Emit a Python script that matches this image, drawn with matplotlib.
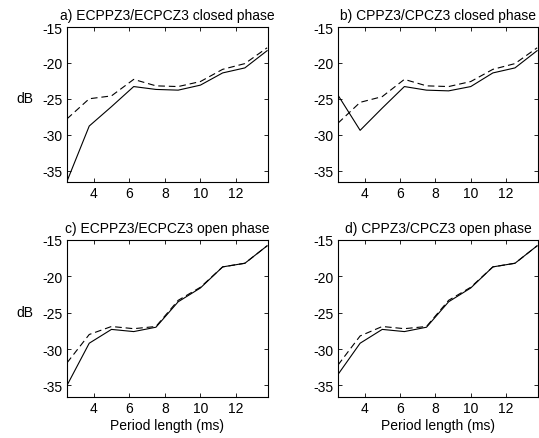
import matplotlib

matplotlib.use("Agg")
import matplotlib.pyplot as plt

plt.rcParams["font.family"] = ["Liberation Sans", "DejaVu Sans"]
plt.rcParams["font.size"] = 10
plt.rcParams["axes.unicode_minus"] = False

# period length (ms)
period = [2.5, 3.75, 5.0, 6.25, 7.5, 8.75, 10.0, 11.25, 12.5, 13.75]

titles = [
    "a) ECPPZ3/ECPCZ3 closed phase",
    "b) CPPZ3/CPCZ3 closed phase",
    "c) ECPPZ3/ECPCZ3 open phase",
    "d) CPPZ3/CPCZ3 open phase",
]

# solid curves (dB)
solid_a = [-36.5, -28.8, -26.1, -23.3, -23.7, -23.8, -23.1, -21.4, -20.7, -18.3]
solid_b = [-24.5, -29.4, -26.3, -23.3, -23.8, -23.9, -23.3, -21.4, -20.7, -18.3]
solid_c = [-35.0, -29.2, -27.3, -27.6, -27.0, -23.5, -21.6, -18.7, -18.2, -15.8]
solid_d = [-33.5, -29.2, -27.3, -27.6, -27.0, -23.5, -21.6, -18.7, -18.2, -15.8]

# dashed curves (dB)
dashed_a = [-27.8, -25.0, -24.6, -22.3, -23.2, -23.3, -22.6, -20.9, -20.1, -17.9]
dashed_b = [-28.4, -25.5, -24.7, -22.3, -23.2, -23.3, -22.6, -20.9, -20.1, -17.9]
dashed_c = [-31.9, -28.0, -26.9, -27.2, -26.9, -23.3, -21.5, -18.7, -18.2, -15.8]
dashed_d = [-32.2, -28.2, -26.9, -27.2, -26.9, -23.3, -21.5, -18.7, -18.2, -15.8]

solids = [solid_a, solid_b, solid_c, solid_d]
dasheds = [dashed_a, dashed_b, dashed_c, dashed_d]

W, H = 539, 439
fig = plt.figure(figsize=(W / 100, H / 100), dpi=100)
fig.patch.set_facecolor("white")

# axes boxes in pixels: left, top, right, bottom
boxes = [
    (67, 28, 268, 183),
    (338, 28, 538, 183),
    (67, 241, 268, 398),
    (338, 241, 538, 398),
]

for i, (l, t, r, b) in enumerate(boxes):
    ax = fig.add_axes([l / W, 1 - b / H, (r - l) / W, (b - t) / H])
    ax.plot(period, solids[i], color="black", lw=0.8)
    ax.plot(period, dasheds[i], color="black", lw=0.8, dashes=(6, 3.5))
    ax.set_xlim(2.5, 13.8)
    ax.set_ylim(-36.6, -15)
    ax.set_xticks([4, 6, 8, 10, 12])
    ax.set_yticks([-35, -30, -25, -20, -15])
    ax.tick_params(direction="in", top=True, right=True, length=3, width=0.6,
                   labelsize=10, pad=3)
    for s in ax.spines.values():
        s.set_linewidth(0.8)
    ax.set_title(titles[i], fontsize=10, pad=6)
    if i % 2 == 0:
        ax.set_ylabel("dB", rotation=0, va="center")
        ax.yaxis.set_label_coords(-0.21, 0.54)
    if i >= 2:
        ax.set_xlabel("Period length (ms)", labelpad=2)

fig.savefig("out.png", dpi=100, facecolor="white")
